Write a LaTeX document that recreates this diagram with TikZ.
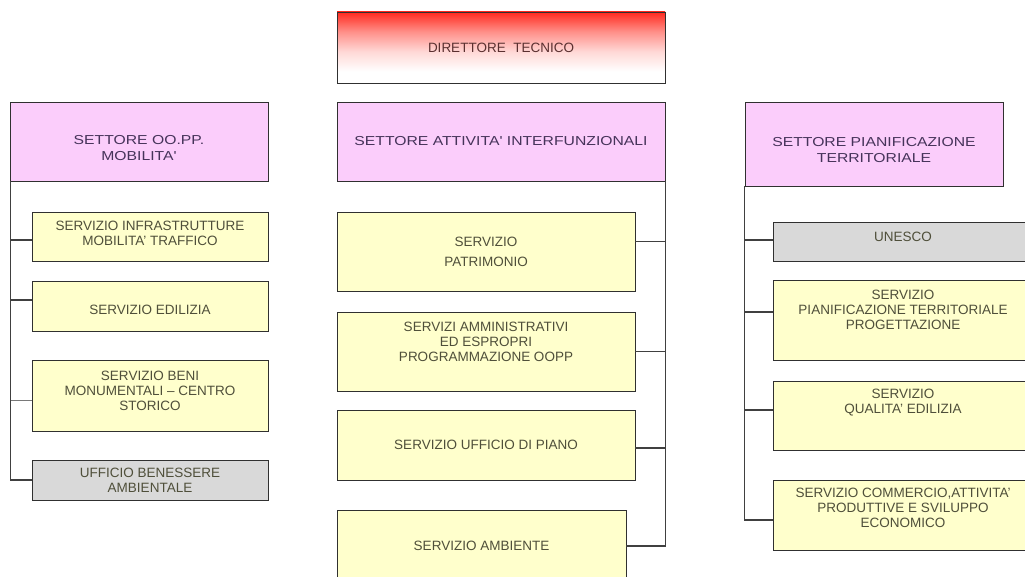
\documentclass[tikz,border=0pt]{standalone}
\usepackage{fontspec}
\setmainfont{Liberation Sans}
\newfontfamily\widesans{Liberation Sans}[FakeStretch=1.21]
\definecolor{sectfill}{HTML}{FBCDFB}
\definecolor{servfill}{HTML}{FFFFCC}
\definecolor{grayfill}{HTML}{D9D9D9}
\definecolor{edge}{HTML}{303030}
\definecolor{wire}{HTML}{404040}
\definecolor{secttext}{HTML}{46335A}
\definecolor{servtext}{HTML}{4F4F3A}
\definecolor{dirtext}{HTML}{5A3030}
\definecolor{redtop}{HTML}{FF2A1E}
% top red fading to white in the lower part of the box
\pgfdeclareverticalshading{dirshade}{100bp}{color(0bp)=(white); color(25bp)=(white); color(33bp)=(white); color(47bp)=(redtop!18); color(61bp)=(redtop!52); color(75bp)=(redtop); color(100bp)=(redtop)}
\tikzset{
  box/.style={draw=edge, line width=0.9pt, inner sep=0pt},
  sector/.style={box, fill=sectfill},
  service/.style={box, fill=servfill},
  office/.style={box, fill=grayfill},
  chief/.style={box, shading=dirshade},
  txt/.style={align=center, font=\fontsize{13.5}{15}\selectfont},
  stxt/.style={align=center, font=\widesans\fontsize{13}{16}\selectfont, text=secttext},
  vtxt/.style={txt, text=servtext},
  wirestyle/.style={draw=wire, line width=1.1pt},
}
\begin{document}
\begin{tikzpicture}[x=1pt, y=-1pt]
\useasboundingbox (0,0) rectangle (1025,577);
\clip (0,0) rectangle (1025,577);
\fill[white] (0,0) rectangle (1025,577);

% head
\node[chief, minimum width=328pt, minimum height=71pt,
  label={[txt, text=dirtext]center:DIRETTORE~~TECNICO}] (dir) at (501,47.5) {};

% sectors
\node[sector, minimum width=258pt, minimum height=79pt,
  label={[stxt, yshift=-7pt]center:SETTORE OO.PP.\\MOBILITA'}] (secL) at (139,141.5) {};
\node[sector, minimum width=328pt, minimum height=79pt,
  label={[stxt]center:SETTORE ATTIVITA' INTERFUNZIONALI}] (secM) at (501,141.5) {};
\node[sector, minimum width=258pt, minimum height=84pt,
  label={[stxt, yshift=-6pt]center:SETTORE PIANIFICAZIONE\\TERRITORIALE}] (secR) at (874,144) {};

% left column
\node[service, minimum width=236pt, minimum height=49pt,
  label={[vtxt, yshift=3pt]center:SERVIZIO INFRASTRUTTURE\\MOBILITA' TRAFFICO}] (L1) at (150,236.5) {};
\node[service, minimum width=236pt, minimum height=50pt,
  label={[vtxt, yshift=-4pt]center:SERVIZIO EDILIZIA}] (L2) at (150,306) {};
\node[service, minimum width=236pt, minimum height=71pt,
  label={[vtxt, yshift=5pt]center:SERVIZIO BENI\\MONUMENTALI -- CENTRO\\STORICO}] (L3) at (150,395.5) {};
\node[office, minimum width=236pt, minimum height=40pt,
  label={[vtxt]center:UFFICIO BENESSERE\\AMBIENTALE}] (L4) at (150,480) {};

% middle column
\node[service, minimum width=298pt, minimum height=79pt,
  label={[vtxt]center:SERVIZIO\\[5pt]PATRIMONIO}] (M1) at (486,251.5) {};
\node[service, minimum width=298pt, minimum height=79pt,
  label={[vtxt, yshift=10pt]center:SERVIZI AMMINISTRATIVI\\ED ESPROPRI\\PROGRAMMAZIONE OOPP}] (M2) at (486,351.5) {};
\node[service, minimum width=298pt, minimum height=70pt,
  label={[vtxt]center:SERVIZIO UFFICIO DI PIANO}] (M3) at (486,445) {};
\node[service, minimum width=289pt, minimum height=72pt,
  label={[vtxt]center:SERVIZIO AMBIENTE}] (M4) at (481.5,546) {};

% right column
\node[office, minimum width=260pt, minimum height=39pt,
  label={[vtxt, yshift=5pt]center:UNESCO}] (R1) at (903,241.5) {};
\node[service, minimum width=260pt, minimum height=80pt,
  label={[vtxt, yshift=10pt]center:SERVIZIO\\PIANIFICAZIONE TERRITORIALE\\PROGETTAZIONE}] (R2) at (903,320) {};
\node[service, minimum width=260pt, minimum height=69pt,
  label={[vtxt, yshift=13pt]center:SERVIZIO\\QUALITA' EDILIZIA}] (R3) at (903,415.5) {};
\node[service, minimum width=260pt, minimum height=70pt,
  label={[vtxt, yshift=7pt]center:SERVIZIO COMMERCIO,ATTIVITA'\\PRODUTTIVE E SVILUPPO\\ECONOMICO}] (R4) at (903,515) {};

% left trunk and branches
\draw[wirestyle] ([xshift=1pt]secL.south west) |- (L4.west);
\draw[wirestyle] ([xshift=1pt]secL.south west |- L1.west) ++(0,3.5) -- ([yshift=-3.5pt]L1.west);
\draw[wirestyle] ([xshift=1pt]secL.south west |- L2.west) ++(0,-6) -- ([yshift=6pt]L2.west);
\draw[wirestyle, draw=wire!70, line width=0.8pt] ([xshift=1pt]secL.south west |- L3.west) ++(0,4.5) -- ([yshift=-4.5pt]L3.west);

% middle trunk and branches
\draw[wirestyle] (secM.south east) |- (M4.east);
\draw[wirestyle] ([yshift=10pt]M1.east) -- ([yshift=10pt]secM.south east |- M1.east);
\draw[wirestyle] (M2.east) -- (secM.south east |- M2.east);
\draw[wirestyle] ([yshift=-3pt]M3.east) -- ([yshift=-3pt]secM.south east |- M3.east);

% right trunk and branches
\draw[wirestyle] (secR.south west) |- ([yshift=-5pt]R4.west);
\draw[wirestyle] ([yshift=1.5pt]secR.south west |- R1.west) -- ([yshift=1.5pt]R1.west);
\draw[wirestyle] ([yshift=8pt]secR.south west |- R2.west) -- ([yshift=8pt]R2.west);
\draw[wirestyle] ([yshift=5.5pt]secR.south west |- R3.west) -- ([yshift=5.5pt]R3.west);
\end{tikzpicture}
\end{document}
